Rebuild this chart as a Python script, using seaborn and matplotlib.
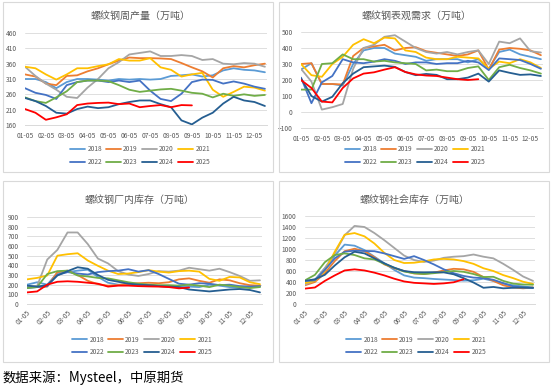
import numpy as np
import pandas as pd
import matplotlib.pyplot as plt
import seaborn as sns
from matplotlib.lines import Line2D
from matplotlib.patches import Rectangle

# Week-ish samples, one value every half month starting 01-05
months = ['01-05', '02-05', '03-05', '04-05', '05-05', '06-05',
          '07-05', '08-05', '09-05', '10-05', '11-05', '12-05']
years = ['2018', '2019', '2020', '2021', '2022', '2023', '2024', '2025']
step = 0.5

# 螺纹钢周产量
prod_2018 = [310,310,300,280,300,310,310,308,305,310,308,310,308,310,320,322,325,318,322,338,345,340,338,332]
prod_2019 = [325,318,295,290,320,322,335,345,358,370,380,378,378,377,375,362,348,335,315,345,352,348,355,360]
prod_2020 = [350,320,295,275,252,248,282,310,345,365,390,395,400,385,385,388,385,372,375,360,358,362,360,350]
prod_2021 = [350,345,325,308,325,345,345,352,358,375,370,370,378,348,340,318,325,330,275,252,268,285,282,272]
prod_2022 = [280,265,258,245,290,300,305,305,300,305,300,305,272,245,238,262,300,308,307,295,302,295,285,278]
prod_2023 = [250,238,232,250,270,300,305,305,303,290,275,268,272,276,278,272,265,262,250,262,255,260,255,258]
prod_2024 = [248,238,222,200,197,212,220,215,218,228,235,240,240,228,218,175,162,184,200,230,252,240,235,222]
prod_2025 = [212,200,177,185,195,225,230,232,233,228,230,218,222,225,218,225,224]

# 螺纹钢表观需求
dem_2018 = [265,305,175,175,165,300,385,400,400,365,355,345,320,330,330,330,310,330,270,375,390,360,345,330]
dem_2019 = [300,305,175,175,172,350,400,410,420,385,400,405,380,370,360,350,360,385,265,390,400,395,385,355]
dem_2020 = [270,190,15,30,50,270,400,420,470,480,440,400,375,365,375,360,375,385,300,440,430,460,380,372]
dem_2021 = [300,230,220,300,345,420,455,430,465,460,385,375,340,330,330,345,340,335,270,315,305,330,310,275]
dem_2022 = [215,55,185,225,330,310,305,315,330,320,300,310,310,300,305,305,320,310,262,335,330,325,300,270]
dem_2023 = [140,140,300,305,360,330,330,315,320,310,305,300,260,265,255,255,275,285,200,280,295,275,260,240]
dem_2024 = [210,100,65,95,180,240,280,285,290,282,250,230,238,232,205,205,215,240,190,260,245,232,235,225]
dem_2025 = [200,150,65,60,150,210,240,248,265,280,250,235,228,225,215,205,200,205]

# 螺纹钢厂内库存
mill_2018 = [200,225,200,320,330,345,355,280,220,200,200,195,190,185,180,175,180,175,200,190,175,170,175,180]
mill_2019 = [180,175,180,330,345,300,240,205,190,195,210,215,220,215,225,255,265,240,220,255,245,215,195,190]
mill_2020 = [180,185,460,560,740,740,620,470,420,340,305,290,310,340,335,345,375,360,345,365,330,290,240,245]
mill_2021 = [255,270,295,500,515,525,450,395,345,310,315,330,350,335,325,340,345,335,260,240,280,275,225,205]
mill_2022 = [165,175,185,300,330,315,305,330,340,345,360,335,350,310,260,210,200,215,210,195,200,185,180,185]
mill_2023 = [165,175,310,340,345,295,285,270,265,245,225,210,200,195,195,190,200,190,175,200,190,175,165,175]
mill_2024 = [190,180,195,295,340,380,365,300,250,230,210,200,195,185,180,175,150,140,130,140,150,155,145,120]
mill_2025 = [120,130,200,230,235,230,220,210,180,190,190,185,182,180,175,162,170]

# 螺纹钢社会库存
soc_2018 = [370,440,650,880,1080,1060,980,860,740,620,520,480,470,455,445,435,425,430,460,420,370,340,320,300]
soc_2019 = [340,400,560,780,960,1005,960,850,720,650,600,555,545,570,610,640,630,585,490,420,340,300,285,300]
soc_2020 = [350,430,650,920,1250,1420,1400,1290,1160,1020,880,800,765,790,840,860,870,900,860,830,730,620,500,420]
soc_2021 = [380,420,600,950,1260,1290,1230,1100,930,800,745,750,775,810,820,810,780,730,650,600,525,470,405,365]
soc_2022 = [420,430,620,830,950,970,965,960,920,870,820,870,800,720,630,560,510,480,470,440,380,320,300,290]
soc_2023 = [430,530,760,890,920,890,830,810,730,660,590,560,545,560,580,600,585,545,490,495,420,370,355,350]
soc_2024 = [420,450,530,700,850,950,920,830,740,660,600,578,575,578,575,540,470,390,295,310,285,295,300,295]
soc_2025 = [280,300,420,520,610,630,610,570,520,460,410,385,375,365,375,395,450]

colors = {'2018': '#5B9BD5', '2019': '#ED7D31', '2020': '#A5A5A5', '2021': '#FFC000',
          '2022': '#4472C4', '2023': '#70AD47', '2024': '#255E91', '2025': '#FF0000'}

panels = [
    ('螺纹钢周产量（万吨）', [prod_2018, prod_2019, prod_2020, prod_2021, prod_2022, prod_2023, prod_2024, prod_2025],
     (160, 460, 50), (25, 33, 267, 125), 16, (140, 155.5), 0, (3, 2, 273, 172)),
    ('螺纹钢表观需求（万吨）', [dem_2018, dem_2019, dem_2020, dem_2021, dem_2022, dem_2023, dem_2024, dem_2025],
     (-100, 500, 100), (301, 32, 543, 128), 16, (415, 155.5), 0, (279, 2, 549, 172)),
    ('螺纹钢厂内库存（万吨）', [mill_2018, mill_2019, mill_2020, mill_2021, mill_2022, mill_2023, mill_2024, mill_2025],
     (0, 900, 100), (27, 217, 262, 304), 200, (142, 346), 45, (3, 181, 273, 362)),
    ('螺纹钢社会库存（万吨）', [soc_2018, soc_2019, soc_2020, soc_2021, soc_2022, soc_2023, soc_2024, soc_2025],
     (0, 1600, 200), (305, 216, 535, 304), 200, (416, 346), 45, (279, 181, 549, 362)),
]

# legend fills columns first, so interleave to get two rows of four
legend_order = ['2018', '2022', '2019', '2023', '2020', '2024', '2021', '2025']

sns.set_theme(style='white')
plt.rcParams['font.family'] = ['Noto Sans CJK SC', 'DejaVu Sans']

W, H = 552, 390
fig = plt.figure(figsize=(W / 100, H / 100), dpi=100)
txt = '#595959'
grid = '#D9D9D9'

for title, series, (ymin, ymax, ystep), (x0, y0, x1, y1), ty, (lx, ly), rot, box in panels:
    fig.patches.append(Rectangle((box[0] / W, 1 - box[3] / H), (box[2] - box[0]) / W,
                                 (box[3] - box[1]) / H, transform=fig.transFigure,
                                 fill=False, edgecolor=grid, linewidth=0.8))
    ax = fig.add_axes([x0 / W, 1 - y1 / H, (x1 - x0) / W, (y1 - y0) / H])
    rows = []
    for yr, vals in zip(years, series):
        for i, v in enumerate(vals):
            rows.append((i * step, v, yr))
    df = pd.DataFrame(rows, columns=['m', 'value', 'year'])
    sns.lineplot(data=df, x='m', y='value', hue='year', palette=colors, hue_order=years,
                 ax=ax, linewidth=1.3, legend=False, estimator=None, errorbar=None)
    ax.set_xlim(0, 11.6)
    ax.set_ylim(ymin, ymax)
    ax.set_yticks(np.arange(ymin, ymax + 1, ystep))
    ax.set_xticks(range(12))
    if rot:
        ax.set_xticklabels(months, rotation=rot, ha='right', rotation_mode='anchor')
    else:
        ax.set_xticklabels(months)
    ax.set_xlabel('')
    ax.set_ylabel('')
    ax.yaxis.grid(True, color=grid, linewidth=0.6)
    ax.set_axisbelow(True)
    for s in ['top', 'right', 'left']:
        ax.spines[s].set_visible(False)
    ax.spines['bottom'].set_color(grid)
    ax.spines['bottom'].set_linewidth(0.7)
    ax.tick_params(axis='both', length=0, labelsize=4.8, labelcolor=txt)
    ax.tick_params(axis='y', pad=6)
    ax.tick_params(axis='x', pad=5 if not rot else 3)
    fig.text(((x0 + x1) / 2 - 5) / W, 1 - ty / H, title, ha='center', va='center',
             fontsize=7.2, color=txt)
    handles = [Line2D([], [], color=colors[y], linewidth=1.3) for y in legend_order]
    ax.legend(handles, legend_order, loc='center', bbox_to_anchor=(lx / W, 1 - ly / H),
              bbox_transform=fig.transFigure, ncol=4, frameon=False, fontsize=4.8,
              handlelength=2.3, handletextpad=0.3, columnspacing=0.6, labelspacing=0.75,
              labelcolor=txt, borderpad=0)

fig.text(3 / W, 1 - 378 / H, '数据来源：Mysteel，中原期货', ha='left', va='center',
         fontsize=9.6, color='black')

fig.savefig('out.png', dpi=100)
